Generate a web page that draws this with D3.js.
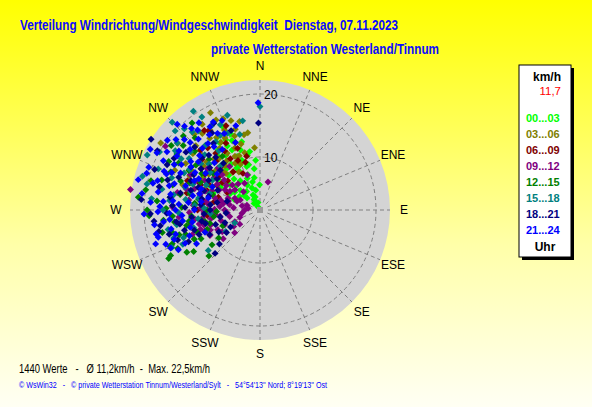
<!DOCTYPE html>
<html>
<head>
<meta charset="utf-8">
<script src="https://cdn.jsdelivr.net/npm/d3@7"></script>
<style>
  body { margin: 0; padding: 0; overflow: hidden; }
  svg { display: block; font-family: "Liberation Sans", Arial, sans-serif; }
</style>
</head>
<body>
<div id="chart"></div>
<script>
// wind readings per 3-hour slot: [direction in degrees, speed in km/h]
const h00_03 = [[326,2.2],[335,4.2],[313,4.4],[340,5.3],[359,5.6],[330,3.5],[318,3.0],[345,6.2],[338,7.0],[341,7.5],
  [350,6.8],[336,9.4],[332,8.5],[328,10.2],[342,11.6],[335,12.1],[334,14.0],[322,11.0],[318,9.0],[310,7.8],
  [305,6.5],[300,8.8],[296,10.5],[312,12.5],[325,13.2],[340,10.0],[346,9.0],[352,8.2],[338,13.5],[330,15.0],
  [320,8.0],[315,6.0],[345,12.8],[310,10.0],[290,9.5],[300,12.0],[333,6.0],[348,4.8],[336,16.0],[326,7.2],
  [303,5.5],[308,8.5],[314,11.0],[322,12.5],[328,11.8],[331,9.2],[337,10.8],[343,8.8],[347,10.5],[320,10.0],
  [316,7.0],[324,5.2],[333,13.0],[339,14.5],[329,14.0],[350,11.0],[355,9.5],[306,9.8],[298,7.0],[292,6.0],
  [312,5.0],[340,3.8],[345,2.8],[332,2.8]]
const h03_06 = [[333,18.9],[338,17.2],[304,20.6],[309,18.4],[355,11.5],[334,14.3],[327,13.3],[330,12.0],[335,11.0],[325,15.5],
  [340,13.0],[320,14.5],[318,12.5],[328,16.5],[343,15.0],[312,13.0],[322,10.5],[337,9.5],[332,10.0],[315,16.0],
  [300,14.0],[305,11.5],[345,11.0],[326,18.0],[310,15.5],[298,12.0],[290,11.0],[338,12.2],[348,13.8],[324,9.0],
  [316,10.0],[295,16.5],[330,14.0],[285,13.0],[342,16.5],[319,17.5],[323,16.8],[329,15.0],[336,15.5],[341,14.0],
  [344,12.5],[339,10.8],[331,8.5],[321,12.0],[313,14.5],[308,13.0],[302,15.5],[296,14.0],[334,17.5],[347,16.0],
  [351,14.0],[326,11.0],[317,9.5],[311,11.0],[288,14.5]]
const h06_09 = [[327,16.6],[346,10.4],[333,13.5],[318,12.0],[310,10.0],[300,9.5],[290,10.5],[325,9.0],[335,8.0],[305,13.0],
  [295,12.5],[285,11.5],[320,14.5],[340,12.0],[312,8.5],[298,7.5],[280,9.0],[330,11.0],[315,15.0],[308,11.5],
  [292,14.0],[275,12.0],[322,13.0],[311,13.8],[303,12.0],[297,10.8],[287,8.5],[278,10.5],[329,12.5],[336,10.2],
  [343,9.5],[317,10.8],[306,9.0],[293,11.8],[283,13.5],[270,11.5],[264,10.0],[325,17.0],[338,16.0]]
const h09_12 = [[279,22.4],[16,6.2],[297,5.1],[280,6.5],[264,8.7],[247,7.7],[248,10.1],[284,11.4],[309,6.7],[304,19.7],
  [290,7.0],[275,8.0],[270,7.2],[260,9.5],[255,8.0],[268,10.5],[285,9.0],[300,8.0],[295,6.0],[310,9.0],
  [320,7.0],[305,10.5],[262,12.0],[272,11.0],[252,11.5],[245,9.0],[240,8.5],[258,6.5],[288,12.5],[298,11.5],
  [315,11.0],[325,10.0],[278,13.0],[265,14.5],[250,13.0],[283,4.5],[292,9.8],[302,7.2],[318,5.5],[275,5.8],
  [265,6.8],[255,10.8],[282,15.0],[340,7.5],[330,6.5],[286,6.8],[291,5.5],[296,8.8],[301,9.5],[306,8.2],
  [280,7.5],[276,9.8],[271,8.8],[266,9.2],[261,8.0],[257,11.5],[253,9.8],[249,11.0],[243,10.5],[262,10.8],
  [268,12.8],[274,12.2],[279,10.2],[284,8.0],[289,10.8],[294,12.8],[312,7.5],[308,12.2],[313,9.8],[286,13.8],
  [297,14.0],[272,15.5],[258,13.0],[235,5.5],[228,7.0],[238,6.5],[232,9.0],[250,5.0],[260,4.5],[270,4.0],
  [278,3.5],[290,3.8],[245,6.0]]
const h12_15 = [[267,19.2],[249,16.5],[248,17.0],[255,9.8],[251,12.2],[262,15.3],[287,17.9],[322,19.1],[245,16.0],[242,18.0],
  [258,13.5],[265,12.5],[272,14.0],[278,16.0],[283,13.0],[290,15.0],[295,12.0],[300,16.5],[305,14.0],[312,15.5],
  [318,17.0],[270,10.0],[260,11.0],[252,14.0],[275,18.0],[280,11.5],[288,9.5],[296,10.0],[308,11.0],[315,13.0],
  [325,12.0],[285,19.5],[264,17.0],[246,13.0],[240,15.0],[298,18.0],[310,17.5],[268,8.5],[256,16.0],[302,12.5],
  [253,15.0],[257,17.5],[261,13.0],[266,15.5],[271,16.5],[276,12.0],[281,14.5],[286,16.0],[291,13.5],[293,17.0],
  [299,14.5],[304,17.5],[262,9.0],[258,10.5],[250,10.5],[244,12.0],[238,14.0],[243,17.5],[270,19.5],[280,20.0],
  [276,21.0],[306,19.0],[314,18.5],[320,15.0],[234,11.0],[228,12.5],[236,9.5],[247,8.0]]
const h15_18 = [[326,20.5],[315,21.3],[317,19.2],[337,14.8],[243,6.1],[247,16.8],[276,18.9],[305,18.0],[310,16.0],[320,15.0],
  [300,14.5],[290,16.5],[285,13.0],[295,11.0],[280,15.5],[270,17.0],[262,14.0],[255,12.5],[250,14.5],[330,17.0],
  [325,13.0],[312,12.5],[302,10.5],[292,19.0],[283,20.0],[300,20.0],[308,13.5],[318,11.0],[335,16.5],[345,14.0],
  [0,18.0],[274,12.0],[266,9.5],[258,16.5],[288,10.0],[298,17.0],[315,14.0],[322,17.5],[306,15.5],[278,13.5],
  [303,16.5],[309,18.5],[313,20.0],[319,18.0],[328,19.0],[332,15.0],[296,15.0],[287,14.0],[282,17.5],[276,16.0],
  [268,14.5],[260,15.0],[252,16.0],[246,15.0],[262,11.5],[272,10.5],[281,11.5],[291,13.0],[307,11.5],[327,14.5],
  [341,17.5],[349,16.0],[286,21.0],[296,21.5],[238,8.0],[232,12.0]]
const h18_21 = [[359,15.4],[303,22.2],[300,20.4],[332,17.2],[261,17.6],[258,18.0],[268,16.4],[256,10.5],[260,8.0],[265,7.0],
  [252,9.0],[270,9.5],[275,11.0],[280,8.5],[285,10.0],[290,12.0],[295,9.0],[300,11.0],[305,13.0],[310,12.0],
  [315,10.5],[320,12.5],[272,13.5],[264,12.5],[255,14.0],[248,12.0],[244,10.5],[282,14.5],[292,15.5],[298,13.5],
  [288,17.0],[278,16.0],[262,15.0],[268,19.0],[250,7.5],[285,7.0],[325,14.5],[340,15.0],[308,16.5],[296,18.0],
  [253,12.5],[259,11.0],[266,10.5],[271,12.0],[276,9.5],[281,11.0],[286,13.0],[289,11.0],[293,13.5],[302,14.5],
  [306,10.0],[312,14.0],[317,13.5],[322,11.0],[260,14.5],[255,16.5],[250,15.5],[246,14.0],[273,15.5],[283,18.0],
  [291,19.5],[275,20.5],[264,18.5],[301,17.5],[314,16.0],[328,16.0],[236,8.0],[230,10.0],[240,7.0],[226,11.5],
  [242,9.0]]
const h21_24 = [[255,18.3],[246,14.6],[284,19.1],[332,17.4],[322,17.7],[299,20.3],[328,12.9],[359,18.6],[250,17.5],[258,16.0],
  [262,18.5],[268,20.0],[272,17.5],[276,15.5],[280,18.0],[285,16.5],[288,20.5],[292,18.0],[295,15.5],[298,17.0],
  [302,19.0],[306,17.5],[310,19.0],[314,17.0],[318,19.5],[322,15.0],[326,16.0],[312,14.5],[305,15.0],[300,13.5],
  [294,13.0],[288,14.0],[282,12.5],[276,13.0],[270,15.0],[266,14.0],[260,12.5],[254,15.5],[248,11.0],[242,13.0],
  [278,20.5],[290,11.5],[296,10.0],[304,12.0],[310,10.5],[316,12.0],[320,18.5],[335,15.0],[340,13.0],[300,16.0],
  [286,18.5],[274,19.0],[264,16.0],[252,19.0],[308,14.0],[283,10.0],[293,16.8],[270,12.0],[324,14.0],[316,20.5],
  [287,15.8],[291,17.5],[297,18.8],[303,17.3],[307,20.0],[311,16.3],[319,16.5],[325,18.5],[329,17.0],[280,16.0],
  [275,17.0],[269,17.8],[263,17.0],[257,18.5],[251,16.0],[247,17.0],[244,16.0],[284,21.5],[291,20.5],[299,21.5],
  [297,12.5],[285,11.5],[278,11.0],[274,14.5],[268,16.0],[262,14.0],[256,13.0],[250,13.5],[313,18.0],[302,14.5],
  [317,15.0],[331,15.5],[337,17.0],[344,15.5]]

const slotLabels = ["00...03", "03...06", "06...09", "09...12", "12...15", "15...18", "18...21", "21...24"]
const slotColors = ["#00ff00", "#808000", "#800000", "#800080", "#008000", "#008080", "#000080", "#0000ff"]
const compass = ["N", "NNE", "NE", "ENE", "E", "ESE", "SE", "SSE", "S", "SSW", "SW", "WSW", "W", "WNW", "NW", "NNW"]
const speedTicks = [10, 20]
const currentSpeed = "11,7"

const width = 592, height = 407
const cx = 260, cy = 210, outerR = 130

const svg = d3.select("#chart").append("svg")
    .attr("width", width)
    .attr("height", height)

// yellow background fading downwards
const grad = svg.append("defs").append("linearGradient")
    .attr("id", "bg").attr("x1", 0).attr("y1", 0).attr("x2", 0).attr("y2", 1)
grad.append("stop").attr("offset", "0%").attr("stop-color", "#ffff00")
grad.append("stop").attr("offset", "60%").attr("stop-color", "#ffffa8")
grad.append("stop").attr("offset", "100%").attr("stop-color", "#fffff4")
svg.append("rect").attr("width", width).attr("height", height).attr("fill", "url(#bg)")

// titles (squeezed to the narrow original font)
svg.append("text").attr("x", 20).attr("y", 30)
    .attr("fill", "#0a0aff").attr("font-size", 14).attr("font-weight", "bold")
    .attr("textLength", 378).attr("lengthAdjust", "spacingAndGlyphs")
    .style("white-space", "pre")
    .text("Verteilung Windrichtung/Windgeschwindigkeit  Dienstag, 07.11.2023")
svg.append("text").attr("x", 211).attr("y", 54)
    .attr("fill", "#0a0aff").attr("font-size", 14).attr("font-weight", "bold")
    .attr("textLength", 228).attr("lengthAdjust", "spacingAndGlyphs")
    .text("private Wetterstation Westerland/Tinnum")

// radius scale
const r = d3.scaleLinear().domain(speedTicks).range([53, 116])
const toRad = d => d * Math.PI / 180

const plot = svg.append("g").attr("transform", "translate(" + cx + "," + cy + ")")
plot.append("circle").attr("r", outerR).attr("fill", "#d4d4d4")

// grid: dashed rings and spokes
plot.append("g").selectAll("circle")
    .data(speedTicks)
    .join("circle")
    .attr("r", d => r(d))
    .attr("fill", "none")
    .attr("stroke", "#808080")
    .attr("stroke-dasharray", "4,3")
plot.append("g").selectAll("line")
    .data(compass)
    .join("line")
    .attr("x1", (d, i) => d3.pointRadial(toRad(i * 22.5), 8)[0])
    .attr("y1", (d, i) => d3.pointRadial(toRad(i * 22.5), 8)[1])
    .attr("x2", (d, i) => d3.pointRadial(toRad(i * 22.5), outerR)[0])
    .attr("y2", (d, i) => d3.pointRadial(toRad(i * 22.5), outerR)[1])
    .attr("stroke", "#808080")
    .attr("stroke-dasharray", "4,3")

// speed labels on the north spoke
plot.append("g").selectAll("text")
    .data(speedTicks)
    .join("text")
    .attr("x", 4)
    .attr("y", d => -r(d) + 5)
    .attr("font-size", 12)
    .attr("fill", "#000")
    .text(d => d)

// compass labels
plot.append("g").selectAll("text")
    .data(compass)
    .join("text")
    .attr("x", (d, i) => d3.pointRadial(toRad(i * 22.5), 144)[0])
    .attr("y", (d, i) => d3.pointRadial(toRad(i * 22.5), 144)[1] + 4)
    .attr("text-anchor", "middle")
    .attr("font-size", 12)
    .attr("fill", "#000")
    .text(d => d)

// points, in time order so later slots sit on top
const slots = [h00_03, h03_06, h06_09, h09_12, h12_15, h15_18, h18_21, h21_24]
const marker = d3.symbol(d3.symbolSquare, 24)()
slots.forEach((series, k) => {
    plot.append("g")
        .attr("fill", slotColors[k])
        .selectAll("path")
        .data(series)
        .join("path")
        .attr("d", marker)
        .attr("transform", d => {
            const p = d3.pointRadial(toRad(d[0]), r(d[1]))
            return "translate(" + p[0] + "," + p[1] + ") rotate(45)"
        })
})
plot.append("rect").attr("x", -3).attr("y", -3).attr("width", 6).attr("height", 6).attr("fill", "#999999")

// legend box with shadow
const lg = svg.append("g").attr("transform", "translate(519,65)")
lg.append("rect").attr("x", 3).attr("y", 3).attr("width", 52).attr("height", 192).attr("fill", "#000")
lg.append("rect").attr("x", 0).attr("y", 0).attr("width", 52).attr("height", 192)
    .attr("fill", "#fff").attr("stroke", "#000")
lg.append("text").attr("x", 28).attr("y", 16).attr("text-anchor", "middle")
    .attr("font-size", 12).attr("font-weight", "bold").text("km/h")
lg.append("text").attr("x", 42).attr("y", 30).attr("text-anchor", "end")
    .attr("font-size", 11.5).attr("fill", "#ff0000").text(currentSpeed)
lg.selectAll(".slot")
    .data(slotLabels)
    .join("text")
    .attr("class", "slot")
    .attr("x", 7)
    .attr("y", (d, i) => 57 + i * 16)
    .attr("font-size", 11)
    .attr("font-weight", "bold")
    .attr("fill", (d, i) => slotColors[i])
    .text(d => d)
lg.append("text").attr("x", 26).attr("y", 186).attr("text-anchor", "middle")
    .attr("font-size", 12).attr("font-weight", "bold").text("Uhr")

// footer
svg.append("text").attr("x", 19).attr("y", 373)
    .attr("font-size", 12.5).attr("fill", "#000")
    .attr("textLength", 191).attr("lengthAdjust", "spacingAndGlyphs")
    .style("white-space", "pre")
    .text("1440 Werte   -   Ø 11,2km/h  -  Max. 22,5km/h")
svg.append("text").attr("x", 19).attr("y", 388)
    .attr("font-size", 8.6).attr("fill", "#0000ff")
    .attr("textLength", 308).attr("lengthAdjust", "spacingAndGlyphs")
    .style("white-space", "pre")
    .text("© WsWin32   -   © private Wetterstation Tinnum/Westerland/Sylt   -   54°54'13'' Nord; 8°19'13'' Ost")
</script>
</body>
</html>
